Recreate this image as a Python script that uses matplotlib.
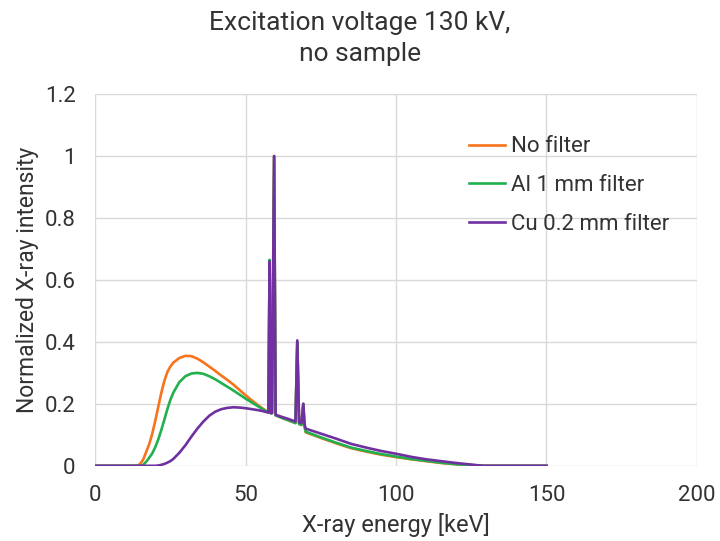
import matplotlib
matplotlib.use("Agg")
import matplotlib.pyplot as plt

plt.rcParams['font.family'] = ['Roboto', 'DejaVu Sans']

# energy grid [keV]
energy = [0, 14, 15, 16, 17, 18, 19, 20, 21, 22, 23, 24, 25, 26, 28, 30, 32, 34, 36,
          38, 40, 42, 44, 46, 48, 50, 52, 54, 56, 57.6, 58.0, 58.4, 58.8, 59.5, 60.0,
          62, 64, 66.6, 67.2, 67.8, 68.6, 69.2, 69.6, 70, 75, 80, 85, 90, 95, 100,
          105, 110, 115, 120, 125, 129, 150]

no_filter = [0, 0, 0.006, 0.02, 0.045, 0.07, 0.103, 0.145, 0.19, 0.235, 0.273, 0.302,
             0.32, 0.333, 0.348, 0.355, 0.354, 0.346, 0.334, 0.32, 0.306, 0.291, 0.277,
             0.262, 0.245, 0.228, 0.212, 0.197, 0.183, 0.172, 0.66, 0.17, 0.17, 1.0,
             0.163, 0.155, 0.148, 0.138, 0.40, 0.135, 0.132, 0.20, 0.128, 0.108, 0.09,
             0.073, 0.057, 0.046, 0.036, 0.028, 0.021, 0.015, 0.009, 0.005, 0.002, 0, 0]

al_filter = [0, 0, 0, 0.003, 0.013, 0.026, 0.04, 0.06, 0.085, 0.115, 0.148, 0.182,
             0.212, 0.236, 0.27, 0.289, 0.298, 0.30, 0.297, 0.289, 0.279, 0.267, 0.255,
             0.243, 0.23, 0.217, 0.205, 0.193, 0.181, 0.172, 0.665, 0.17, 0.17, 1.0,
             0.163, 0.155, 0.148, 0.138, 0.40, 0.135, 0.132, 0.20, 0.128, 0.11, 0.092,
             0.075, 0.059, 0.048, 0.038, 0.030, 0.022, 0.016, 0.010, 0.005, 0.002, 0, 0]

cu_filter = [0, 0, 0, 0, 0, 0, 0, 0, 0.001, 0.003, 0.006, 0.01, 0.015, 0.022, 0.042,
             0.066, 0.094, 0.12, 0.143, 0.162, 0.175, 0.183, 0.187, 0.189, 0.188, 0.186,
             0.183, 0.18, 0.176, 0.172, 0.66, 0.17, 0.17, 1.0, 0.165, 0.158, 0.152,
             0.143, 0.405, 0.14, 0.138, 0.20, 0.135, 0.12, 0.104, 0.088, 0.071, 0.059,
             0.048, 0.039, 0.029, 0.021, 0.015, 0.009, 0.004, 0, 0]

labels = ['No filter', 'Al 1 mm filter', 'Cu 0.2 mm filter']
colors = ['#F7731C', '#22B04F', '#7030A0']
text_color = '#333333'

fig = plt.figure(figsize=(7.2, 5.41), dpi=100)
ax = fig.add_axes([0.132, 0.139, 0.836, 0.687])

for ys, lab, c in zip([no_filter, al_filter, cu_filter], labels, colors):
    ax.plot(energy, ys, color=c, lw=1.9, label=lab, solid_joinstyle='round')

ax.set_xlim(0, 200)
ax.set_ylim(0, 1.2)
ax.set_xticks([0, 50, 100, 150, 200])
ax.set_yticks([0, 0.2, 0.4, 0.6, 0.8, 1.0, 1.2])
ax.set_yticklabels(['0', '0.2', '0.4', '0.6', '0.8', '1', '1.2'])
ax.grid(True, color='#d9d9d9', lw=1)
ax.set_axisbelow(True)
for s in ax.spines.values():
    s.set_visible(False)
ax.tick_params(length=0, labelsize=16, labelcolor=text_color)
ax.tick_params(axis='y', pad=14)
ax.tick_params(axis='x', pad=14)

ax.set_xlabel('X-ray energy [keV]', fontsize=17, color=text_color, labelpad=5)
ax.set_ylabel('Normalized X-ray intensity', fontsize=16.5, color=text_color, labelpad=4)
fig.suptitle('Excitation voltage 130 kV,\nno sample', fontsize=19, color=text_color,
             y=0.98, va='top', linespacing=1.4)

ax.legend(loc='upper left', bbox_to_anchor=(0.588, 0.94), frameon=False, fontsize=16,
          handlelength=1.62, handletextpad=0.25, labelspacing=0.8, labelcolor=text_color)

fig.savefig('out.png', dpi=100)
